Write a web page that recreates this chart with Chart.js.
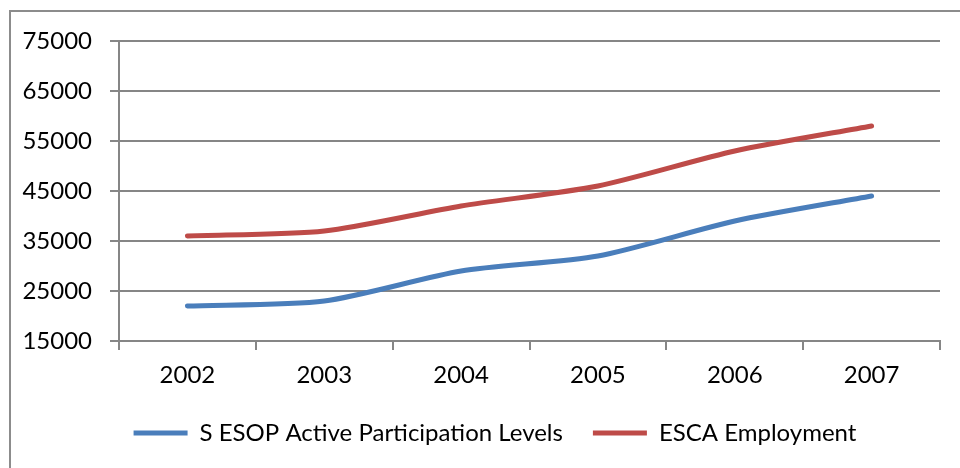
<!DOCTYPE html>
<html>
<head>
<meta charset="utf-8">
<script src="https://cdn.jsdelivr.net/npm/chart.js@4"></script>
<style>
  html, body { margin: 0; padding: 0; background: #fff; }
  #wrap { position: relative; width: 960px; height: 468px; overflow: hidden; }
  #frame { position: absolute; left: 9px; top: 10px; width: 1000px; height: 500px; border: 2px solid #8c8c8c; box-sizing: border-box; }
  canvas { position: absolute; left: 0; top: 0; }
</style>
</head>
<body>
<div id="wrap">
  <div id="frame"></div>
  <canvas id="chart" width="960" height="468"></canvas>
</div>
<script>
const years = ['2002', '2003', '2004', '2005', '2006', '2007'];
const esopParticipation = [22000, 23000, 29000, 32000, 39000, 44000];
const escaEmployment = [36000, 37000, 42000, 46000, 53000, 58000];
const yTicks = [15000, 25000, 35000, 45000, 55000, 65000, 75000];

const font = { family: 'Lato, "Open Sans", sans-serif', size: 24 };

// legend in the original sits a bit right of the canvas centre
const nudgeLegend = {
  id: 'nudgeLegend',
  afterLayout(chart) {
    chart.legend.left += 25;
    chart.legend.right += 25;
  }
};

new Chart(document.getElementById('chart'), {
  type: 'line',
  data: {
    labels: years,
    datasets: [
      {
        label: 'S ESOP Active Participation Levels',
        data: esopParticipation,
        borderColor: '#4a7ebb',
        backgroundColor: '#4a7ebb',
        borderWidth: 5,
        borderCapStyle: 'round',
        pointRadius: 0,
        tension: 0.25,
        fill: false
      },
      {
        label: 'ESCA Employment',
        data: escaEmployment,
        borderColor: '#be4b48',
        backgroundColor: '#be4b48',
        borderWidth: 5,
        borderCapStyle: 'round',
        pointRadius: 0,
        tension: 0.25,
        fill: false
      }
    ]
  },
  options: {
    responsive: false,
    animation: false,
    layout: { padding: { top: 41, right: 20, left: 0, bottom: 13 } },
    plugins: {
      tooltip: { enabled: false },
      legend: {
        position: 'bottom',
        labels: {
          color: '#000',
          font: font,
          usePointStyle: true,
          pointStyle: 'line',
          pointStyleWidth: 54,
          padding: 30
        }
      }
    },
    scales: {
      x: {
        offset: true,
        grid: { offset: true, drawOnChartArea: false, color: '#868686', lineWidth: 2, tickLength: 9 },
        border: { color: '#868686', width: 2 },
        ticks: { color: '#000', font: font, padding: 11 },
        afterFit: s => { s.height = 50; }
      },
      y: {
        min: 15000,
        max: 75000,
        afterBuildTicks: s => { s.ticks = yTicks.map(v => ({ value: v })); },
        grid: { color: '#868686', lineWidth: 2, tickLength: 9 },
        border: { color: '#868686', width: 2 },
        ticks: { color: '#000', font: font, padding: 18, callback: v => String(v) },
        afterFit: s => { s.width = 119; }
      }
    }
  },
  plugins: [nudgeLegend]
});
</script>
</body>
</html>
